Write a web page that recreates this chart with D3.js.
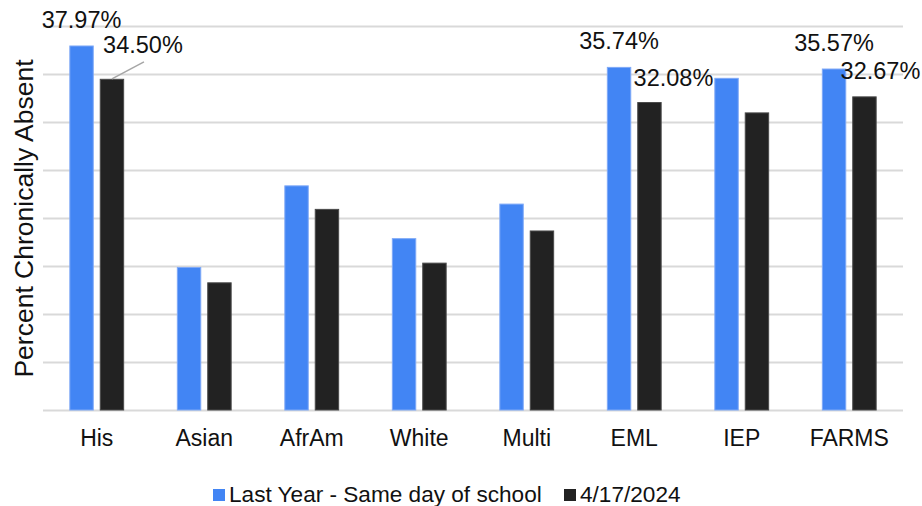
<!DOCTYPE html>
<html>
<head>
<meta charset="utf-8">
<script src="https://cdn.jsdelivr.net/npm/d3@7"></script>
<style>
  html, body { margin: 0; padding: 0; background: #fff; }
  svg { display: block; font-family: "Liberation Sans", Arial, sans-serif; }
</style>
</head>
<body>
<svg id="chart" width="922" height="506"></svg>
<script>
// Chronic absence by student group
const categories = ["His", "Asian", "AfrAm", "White", "Multi", "EML", "IEP", "FARMS"];
const seriesNames = ["Last Year - Same day of school", "4/17/2024"];
const lastYear = [37.97, 14.9, 23.4, 17.9, 21.5, 35.74, 34.6, 35.57];
const current  = [34.50, 13.3, 20.95, 15.35, 18.7, 32.08, 31.0, 32.67];
const yTicks = [0, 5, 10, 15, 20, 25, 30, 35, 40];
const labeledGroups = ["His", "EML", "FARMS"];

const colors = ["#4285f4", "#222222"];
const strokes = ["#7fa9f7", "#4a4a4a"];

const svg = d3.select("#chart");
const plot = { left: 43, right: 903, top: 26, bottom: 410 };

const x0 = d3.scaleBand().domain(categories).range([plot.left, plot.right]).padding(0);
const groupInset = x0.bandwidth() * 0.245;
const x1 = d3.scaleBand().domain(seriesNames)
  .range([groupInset, x0.bandwidth() - groupInset])
  .paddingInner(0.197).paddingOuter(0);
const y = d3.scaleLinear().domain([0, 40]).range([plot.bottom, plot.top]);

// horizontal gridlines
svg.append("g")
  .attr("transform", `translate(${plot.left},0)`)
  .call(d3.axisLeft(y).tickValues(yTicks).tickSize(-(plot.right - plot.left)).tickFormat(""))
  .call(g => g.select(".domain").remove())
  .call(g => g.selectAll(".tick line").attr("stroke", "#d9d9d9").attr("stroke-width", 2));

// category axis labels
svg.append("g")
  .attr("transform", `translate(0,${plot.bottom})`)
  .call(d3.axisBottom(x0).tickSize(0).tickPadding(20))
  .call(g => g.select(".domain").remove())
  .call(g => g.selectAll(".tick text")
    .attr("font-size", 23).attr("fill", "#111").attr("font-family", "Liberation Sans, Arial, sans-serif"));

const rows = categories.map((c, i) => ({ cat: c, values: [lastYear[i], current[i]] }));

// bars
const groups = svg.append("g").selectAll("g")
  .data(rows).join("g")
  .attr("transform", d => `translate(${x0(d.cat)},0)`);

groups.selectAll("rect")
  .data(d => d.values.map((v, k) => ({ v, k, name: seriesNames[k] })))
  .join("rect")
  .attr("x", d => x1(d.name) + 0.5)
  .attr("width", x1.bandwidth() - 1)
  .attr("y", d => y(d.v) + 0.5)
  .attr("height", d => plot.bottom - y(d.v) - 0.5)
  .attr("fill", d => colors[d.k])
  .attr("stroke", d => strokes[d.k])
  .attr("stroke-width", 1);

// value labels (placement nudges keep neighbouring labels apart)
const nudge = {
  "His":   [{ dx: 0, dy: -17 }, { dx: 31, dy: -26, leader: true }],
  "EML":   [{ dx: 0, dy: -17.5 }, { dx: 24, dy: -16.5 }],
  "FARMS": [{ dx: 0, dy: -17.5 }, { dx: 16, dy: -17.5 }]
};
const labelLayer = svg.append("g");
rows.filter(r => labeledGroups.includes(r.cat)).forEach(r => {
  r.values.forEach((v, k) => {
    const cx = x0(r.cat) + x1(seriesNames[k]) + x1.bandwidth() / 2;
    const top = y(v);
    const n = nudge[r.cat][k];
    if (n.leader) {
      labelLayer.append("line")
        .attr("x1", cx).attr("y1", top)
        .attr("x2", cx + n.dx + 1).attr("y2", top + n.dy + 9)
        .attr("stroke", "#a6a6a6").attr("stroke-width", 1.5);
    }
    labelLayer.append("text")
      .attr("x", cx + n.dx).attr("y", top + n.dy)
      .attr("text-anchor", "middle")
      .attr("font-size", 23.5).attr("fill", "#111")
      .text(v.toFixed(2) + "%");
  });
});

// y axis title
svg.append("text")
  .attr("transform", `translate(33,${(60 + 377) / 2}) rotate(-90)`)
  .attr("text-anchor", "middle")
  .attr("font-size", 26.5).attr("fill", "#111")
  .text("Percent Chronically Absent");

// legend
const legend = svg.append("g").attr("transform", "translate(213,489)");
const legendX = [0, 351];
seriesNames.forEach((name, k) => {
  const g = legend.append("g").attr("transform", `translate(${legendX[k]},0)`);
  g.append("rect").attr("width", 12).attr("height", 12).attr("fill", colors[k]);
  g.append("text").attr("x", 16).attr("y", 12.5)
    .attr("font-size", 22.6).attr("fill", "#111").text(name);
});
</script>
</body>
</html>
